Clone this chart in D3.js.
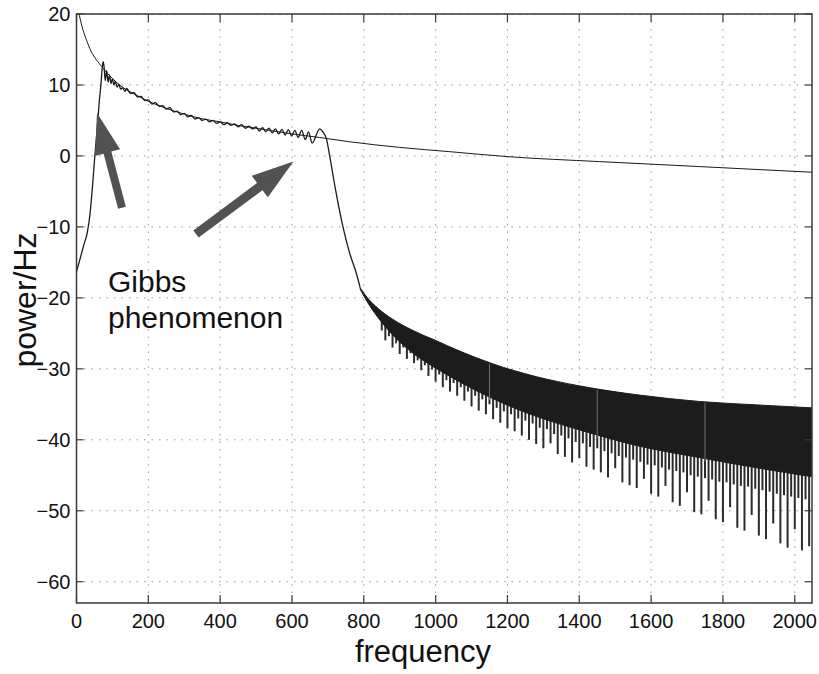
<!DOCTYPE html>
<html>
<head>
<meta charset="utf-8">
<script src="https://cdn.jsdelivr.net/npm/d3@7"></script>
<style>
  html, body { margin: 0; padding: 0; background: #fff; }
  svg { display: block; font-family: "Liberation Sans", Arial, Helvetica, sans-serif; }
</style>
</head>
<body>
<svg id="chart" width="819" height="674"></svg>
<script>
// Axis ticks
const xTicks = [0, 200, 400, 600, 800, 1000, 1200, 1400, 1600, 1800, 2000];
const yTicks = [-60, -50, -40, -30, -20, -10, 0, 10, 20];
const xDomain = [0, 2048];
const yDomain = [-63, 20];

// Ideal (unfiltered) spectrum, dB per Hz
const idealHz = [0, 8, 15, 28, 40, 56, 70, 80, 100, 120, 140, 158, 200, 250, 300, 343, 400, 450, 500, 550, 600, 677, 760, 900, 1039, 1200, 1456, 1734, 2048];
const idealDb = [21.5, 19.8, 18.3, 16.3, 14.8, 13.5, 12.6, 12.0, 10.9, 10.0, 9.3, 8.8, 7.7, 6.7, 5.9, 5.3, 4.8, 4.3, 3.9, 3.5, 3.1, 2.6, 2.0, 1.2, 0.6, -0.1, -0.8, -1.5, -2.3];

// Band-limited spectrum: rise, pass band with ripple, roll-off
const filtHz = [0, 10, 20, 30, 38, 45, 51, 58, 64, 68, 71, 74, 77, 80, 84, 88, 92, 96, 100, 104, 108, 113, 118, 123, 128, 135,
  140, 150, 160, 170, 180, 190, 200, 210, 220, 230, 240, 250, 260, 270, 280, 290, 300, 310, 320, 330, 340, 350, 360, 370, 380,
  390, 400, 410, 420, 430, 440, 450, 460, 470, 480, 490, 500, 509, 518, 527, 536, 545, 554, 563, 572, 581, 590, 599, 608, 617,
  627, 637, 646, 656, 677, 686, 696, 705, 720, 742, 760, 779, 790];
const filtDb = [-16.3, -14.5, -12.6, -10.8, -8.0, -4.0, 0.0, 4.0, 8.0, 10.0, 12.0, 13.3, 12.5, 10.6, 12.0, 10.4, 11.4, 10.2, 10.9, 10.0, 10.5, 9.7, 10.1, 9.4, 9.6, 9.1,
  9.5, 8.8, 8.9, 8.3, 8.4, 7.8, 7.9, 7.3, 7.5, 7.0, 7.1, 6.6, 6.8, 6.2, 6.3, 5.8, 6.0, 5.5, 5.7, 5.2, 5.4, 5.0, 5.2, 4.8, 5.0,
  4.6, 4.8, 4.4, 4.7, 4.3, 4.5, 4.1, 4.4, 3.9, 4.2, 3.8, 4.1, 3.5, 4.0, 3.4, 3.9, 3.25, 3.8, 3.1, 3.75, 2.95, 3.7, 2.8, 3.6, 2.6,
  3.6, 2.3, 3.4, 1.8, 3.8, 3.4, 2.4, 0.0, -4.4, -10.0, -13.6, -16.5, -18.6];

// Stop band: envelope of the dense side-lobe oscillation
const bandHz      = [790, 810, 840, 880, 937, 1000, 1062, 1159, 1280, 1400, 1567, 1734, 1900, 2048];
const bandTopDb   = [-18.6, -20.0, -21.5, -23.0, -24.6, -26.0, -27.4, -29.3, -31.1, -32.4, -33.7, -34.6, -35.1, -35.5];
const bandFloorDb = [-18.8, -20.6, -22.8, -25.2, -27.8, -29.9, -31.7, -34.2, -36.7, -38.6, -40.9, -42.5, -44.0, -45.2];

// Side-lobe nulls below the solid band, every 10 Hz from 850 Hz
const nullStartHz = 850;
const nullStepHz = 10;
const nullDb = [
  -24.6, -26.0, -25.4, -27.0, -26.4, -27.9, -27.0, -28.6, -27.8, -29.2,
  -28.8, -30.2, -29.5, -31.0, -30.1, -31.8, -30.8, -32.6, -31.6, -33.2,
  -32.0, -33.8, -32.6, -34.5, -33.2, -35.3, -33.8, -35.9, -34.3, -36.4,
  -35.0, -37.1, -35.5, -37.6, -36.0, -38.4, -36.4, -38.8, -37.0, -39.4,
  -37.3, -40.0, -37.7, -40.6, -38.3, -41.2, -38.5, -40.5, -39.2, -42.0,
  -39.4, -42.4, -39.8, -43.2, -40.3, -42.6, -40.5, -43.8, -41.0, -44.2,
  -41.2, -44.6, -41.6, -45.3, -41.9, -44.0, -42.3, -46.0, -42.5, -46.4,
  -42.8, -46.8, -43.1, -45.5, -43.5, -47.6, -43.6, -48.0, -43.9, -46.5,
  -44.2, -48.8, -44.4, -49.3, -44.6, -47.4, -45.0, -50.2, -45.2, -50.5,
  -45.4, -48.6, -45.6, -51.2, -45.9, -51.6, -46.0, -49.5, -46.3, -52.4,
  -46.5, -52.8, -46.6, -50.6, -46.9, -53.5, -47.1, -54.0, -47.3, -51.8,
  -47.6, -54.6, -47.8, -55.2, -48.0, -52.6, -48.2, -55.6, -48.4, -55.0
];

// Frequencies where the oscillation lines up into faint vertical streaks
const nodeHz = [1150, 1450, 1750];

// Annotation arrows (data coordinates)
const arrows = [
  { tailHz: 126.7, tailDb: -7.3, tipHz: 57.1, tipDb: 6.05, headLen: 41, headHalf: 13, shaftHalf: 4 },
  { tailHz: 332.7, tailDb: -11.0, tipHz: 604.2, tipDb: -0.78, headLen: 42, headHalf: 13.5, shaftHalf: 4.5 }
];
const noteLines = ["Gibbs", "phenomenon"];

const svg = d3.select("#chart");
const plot = { left: 76.5, right: 812, top: 14, bottom: 603 };

const x = d3.scaleLinear().domain(xDomain).range([plot.left, plot.right]);
const y = d3.scaleLinear().domain(yDomain).range([plot.bottom, plot.top]);

svg.append("defs").append("clipPath").attr("id", "clip")
  .append("rect")
  .attr("x", plot.left).attr("y", plot.top)
  .attr("width", plot.right - plot.left).attr("height", plot.bottom - plot.top);

// Dotted grid
const grid = svg.append("g").attr("stroke", "#9a9a9a").attr("stroke-width", 1).attr("stroke-dasharray", "1.5,6");
grid.selectAll("line.gx").data(xTicks).join("line")
  .attr("x1", d => x(d)).attr("x2", d => x(d))
  .attr("y1", plot.top).attr("y2", plot.bottom);
grid.selectAll("line.gy").data(yTicks).join("line")
  .attr("y1", d => y(d)).attr("y2", d => y(d))
  .attr("x1", plot.left).attr("x2", plot.right);

const g = svg.append("g").attr("clip-path", "url(#clip)");

// Ideal spectrum
const idealLine = d3.line().x((d, i) => x(idealHz[i])).y(d => y(d)).curve(d3.curveMonotoneX);
g.append("path").attr("d", idealLine(idealDb))
  .attr("fill", "none").attr("stroke", "#1a1a1a").attr("stroke-width", 1);

// Stop band solid region
const topAt = d3.scaleLinear().domain(bandHz).range(bandTopDb);
const floorAt = d3.scaleLinear().domain(bandHz).range(bandFloorDb);
const bandArea = d3.area()
  .x((d, i) => x(bandHz[i]))
  .y0((d, i) => y(bandFloorDb[i]))
  .y1(d => y(d))
  .curve(d3.curveMonotoneX);

// Side-lobe null spikes
const spikes = g.append("g").attr("stroke", "#2b2b2b").attr("stroke-width", 2);
spikes.selectAll("line").data(nullDb).join("line")
  .attr("x1", (d, i) => x(nullStartHz + i * nullStepHz))
  .attr("x2", (d, i) => x(nullStartHz + i * nullStepHz))
  .attr("y1", (d, i) => y(floorAt(nullStartHz + i * nullStepHz) + 0.5))
  .attr("y2", d => y(d));

g.append("path").attr("d", bandArea(bandTopDb))
  .attr("fill", "#1c1c1c").attr("stroke", "#1c1c1c").attr("stroke-width", 1);

// Faint streaks inside the band
g.append("g").attr("stroke", "#7a7a7a").attr("stroke-width", 0.9)
  .selectAll("line").data(nodeHz).join("line")
  .attr("x1", d => x(d)).attr("x2", d => x(d))
  .attr("y1", d => y(topAt(d)) + 1)
  .attr("y2", d => y(floorAt(d)) + 3);

// Band-limited spectrum
const filtLine = d3.line().x((d, i) => x(filtHz[i])).y(d => y(d)).curve(d3.curveMonotoneX);
g.append("path").attr("d", filtLine(filtDb))
  .attr("fill", "none").attr("stroke", "#1a1a1a").attr("stroke-width", 1.3);

// Axes box
svg.append("rect")
  .attr("x", plot.left).attr("y", plot.top)
  .attr("width", plot.right - plot.left).attr("height", plot.bottom - plot.top)
  .attr("fill", "none").attr("stroke", "#3a3a3a").attr("stroke-width", 1.5);

// Inward ticks on all four sides
const ticks = svg.append("g").attr("stroke", "#3a3a3a").attr("stroke-width", 1.2);
ticks.selectAll("line.xb").data(xTicks).join("line").attr("class", "xb")
  .attr("x1", d => x(d)).attr("x2", d => x(d)).attr("y1", plot.bottom).attr("y2", plot.bottom - 8);
ticks.selectAll("line.xt").data(xTicks).join("line").attr("class", "xt")
  .attr("x1", d => x(d)).attr("x2", d => x(d)).attr("y1", plot.top).attr("y2", plot.top + 8);
ticks.selectAll("line.yl").data(yTicks).join("line").attr("class", "yl")
  .attr("y1", d => y(d)).attr("y2", d => y(d)).attr("x1", plot.left).attr("x2", plot.left + 7);
ticks.selectAll("line.yr").data(yTicks).join("line").attr("class", "yr")
  .attr("y1", d => y(d)).attr("y2", d => y(d)).attr("x1", plot.right).attr("x2", plot.right - 7);

// Tick labels
const fmt = v => (v < 0 ? "\u2212" + Math.abs(v) : String(v));
svg.append("g").attr("font-size", 20).attr("fill", "#111").attr("text-anchor", "middle")
  .selectAll("text").data(xTicks).join("text")
  .attr("x", d => x(d)).attr("y", 628).text(fmt);
svg.append("g").attr("font-size", 20).attr("fill", "#111").attr("text-anchor", "end")
  .selectAll("text").data(yTicks).join("text")
  .attr("x", plot.left - 6).attr("y", d => y(d) + 7).text(fmt);

// Axis titles
svg.append("text").attr("x", 423).attr("y", 662).attr("text-anchor", "middle")
  .attr("font-size", 31).attr("fill", "#111").text("frequency");
svg.append("text").attr("transform", "translate(36,300) rotate(-90)").attr("text-anchor", "middle")
  .attr("font-size", 32).attr("fill", "#111").text("power/Hz");

// Arrows
arrows.forEach(a => {
  const tx = x(a.tailHz), ty = y(a.tailDb), hx = x(a.tipHz), hy = y(a.tipDb);
  const len = Math.hypot(hx - tx, hy - ty);
  const ux = (hx - tx) / len, uy = (hy - ty) / len;
  const nx = -uy, ny = ux;
  const bx = hx - ux * a.headLen, by = hy - uy * a.headLen;
  const pts = [
    [tx + nx * a.shaftHalf, ty + ny * a.shaftHalf],
    [bx + nx * a.shaftHalf, by + ny * a.shaftHalf],
    [bx + nx * a.headHalf, by + ny * a.headHalf],
    [hx, hy],
    [bx - nx * a.headHalf, by - ny * a.headHalf],
    [bx - nx * a.shaftHalf, by - ny * a.shaftHalf],
    [tx - nx * a.shaftHalf, ty - ny * a.shaftHalf]
  ];
  svg.append("path").attr("d", d3.line()(pts) + "Z").attr("fill", "#525252");
});

// Annotation text
svg.append("g").attr("font-size", 30).attr("fill", "#111")
  .selectAll("text").data(noteLines).join("text")
  .attr("x", 108).attr("y", (d, i) => 292 + i * 36).text(d => d);
</script>
</body>
</html>
